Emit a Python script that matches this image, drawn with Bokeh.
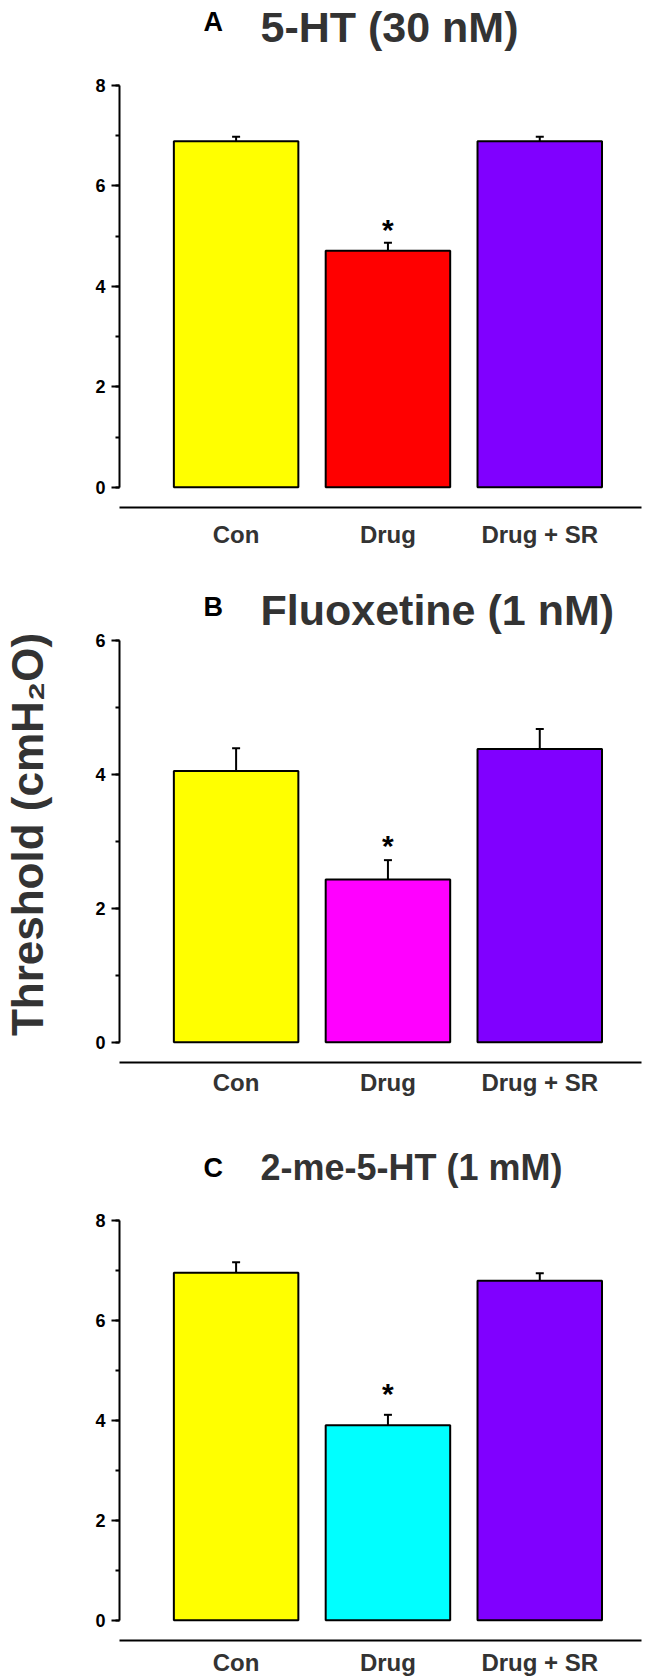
from bokeh.plotting import figure
from bokeh.layouts import column
from bokeh.models import (Range1d, FixedTicker, SingleIntervalTicker, Whisker,
                          TeeHead, Label, ColumnDataSource)
from bokeh.core.properties import value
from bokeh.embed import file_html
from bokeh.resources import INLINE

# ---------------- data ----------------
cats = ["Con", "Drug", "Drug + SR"]
panel_letters = ["A", "B", "C"]
panel_titles = ["5-HT (30 nM)", "Fluoxetine (1 nM)", "2-me-5-HT (1 mM)"]

means_a = [6.89, 4.71, 6.89]
err_a = [0.09, 0.16, 0.09]
means_b = [4.05, 2.43, 4.38]
err_b = [0.34, 0.29, 0.30]
means_c = [6.95, 3.90, 6.79]
err_c = [0.21, 0.21, 0.15]

y_axis_max = [8, 6, 8]
significant = [[False, True, False], [False, True, False], [False, True, False]]

con_color = "#FFFF00"
sr_color = "#8000FF"
drug_colors = ["#FF0000", "#FF00FF", "#00FFFF"]

y_label = "Threshold (cmH\u2082O)"

# ---------------- style / layout ----------------
FONT = "Liberation Sans"
TXT = "#333333"
W = 655
heights = [557, 555, 566]
b_bot = [50, 50, 37]
y_lo = [-0.404, -0.303, -0.405]
y_hi = [9.693, 7.241, 10.158]
lab_standoff = [13, 6, 8]
title_y = [481.0, 453.0, 473.0]
letter_y = [486.0, 455.5, 473.0]
title_size = ["43px", "43px", "36px"]
star_off = [-13, -15, -21]

all_means = [means_a, means_b, means_c]
all_errs = [err_a, err_b, err_c]

xs = [i + 1 for i in range(len(cats))]

figs = []
for k in range(3):
    means = all_means[k]
    errs = all_errs[k]
    colors = [con_color, drug_colors[k], sr_color]
    p = figure(width=W, height=heights[k], output_backend="svg",
               toolbar_location=None, tools="",
               x_range=Range1d(0.232, 3.67), y_range=Range1d(y_lo[k], y_hi[k]),
               min_border_left=114, min_border_right=14,
               min_border_top=0, min_border_bottom=b_bot[k])
    p.outline_line_color = None
    p.grid.visible = False
    p.background_fill_color = "white"

    src = ColumnDataSource(dict(x=xs, top=means, color=colors,
                                upper=[m + e for m, e in zip(means, errs)]))
    p.vbar(x="x", top="top", bottom=0, width=0.82, source=src,
           fill_color="color", line_color="black", line_width=2)
    wh = Whisker(base="x", lower="top", upper="upper", source=src,
                 line_color="black", line_width=2,
                 upper_head=TeeHead(size=8, line_width=2, line_color="black"),
                 lower_head=None, level="annotation")
    p.add_layout(wh)

    sx = [x for x, s in zip(xs, significant[k]) if s]
    sy = [m + e for m, e, s in zip(means, errs, significant[k]) if s]
    p.text(x=sx, y=sy, text=["*"] * len(sx), text_align="center",
           text_baseline="alphabetic", y_offset=star_off[k],
           text_font=value(FONT), text_font_style="bold",
           text_font_size="30px", text_color="black")

    # y axis
    ya = p.yaxis[0]
    ya.bounds = (0, y_axis_max[k])
    ya.ticker = SingleIntervalTicker(interval=2, num_minor_ticks=2)
    ya.axis_line_width = 2
    ya.major_tick_line_width = 2
    ya.minor_tick_line_width = 2
    ya.major_tick_out = 8
    ya.major_tick_in = 0
    ya.minor_tick_out = 4
    ya.minor_tick_in = 0
    ya.major_label_standoff = 6
    ya.major_label_text_font = FONT
    ya.major_label_text_font_style = "bold"
    ya.major_label_text_font_size = "18px"
    ya.major_label_text_color = "black"
    if k == 1:
        # trailing no-break spaces move the label's visible part toward the axis bottom
        ya.axis_label = y_label + "\u00a0" * 4
        ya.axis_label_standoff = 40
        ya.axis_label_text_font = FONT
        ya.axis_label_text_font_style = "bold"
        ya.axis_label_text_font_size = "44px"
        ya.axis_label_text_color = TXT

    # x axis (separator line with category labels)
    xa = p.xaxis[0]
    xa.ticker = FixedTicker(ticks=xs)
    xa.major_label_overrides = {x: c for x, c in zip(xs, cats)}
    xa.axis_line_width = 2
    xa.major_tick_out = 0
    xa.major_tick_in = 0
    xa.minor_tick_out = 0
    xa.minor_tick_in = 0
    xa.major_label_standoff = lab_standoff[k]
    xa.major_label_text_font = FONT
    xa.major_label_text_font_style = "bold"
    xa.major_label_text_font_size = "24px"
    xa.major_label_text_color = TXT

    # panel letter and title
    p.add_layout(Label(x=84, y=letter_y[k], x_units="screen", y_units="screen",
                       text=panel_letters[k], text_font=FONT,
                       text_font_style="bold", text_font_size="27px",
                       text_color="black", text_baseline="middle"))
    p.add_layout(Label(x=141, y=title_y[k], x_units="screen", y_units="screen",
                       text=panel_titles[k], text_font=FONT,
                       text_font_style="bold", text_font_size=title_size[k],
                       text_color=TXT, text_baseline="middle"))
    figs.append(p)

layout = column(*figs, spacing=0)
open("out.html", "w").write(file_html(layout, INLINE))
